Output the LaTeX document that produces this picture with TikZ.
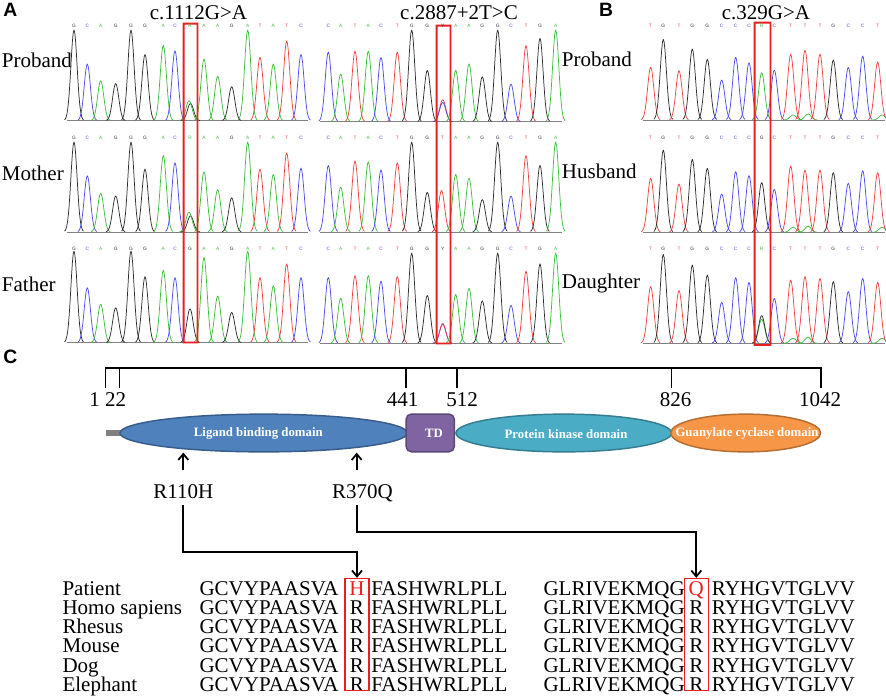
\documentclass[tikz,border=0pt]{standalone}
\usepackage{fontspec}
\setmainfont{Liberation Serif}
\newfontfamily\hvsans{Liberation Sans}
\usetikzlibrary{shapes.geometric,arrows.meta,calc}

\definecolor{cK}{RGB}{45,45,45}
\definecolor{cB}{RGB}{75,75,235}
\definecolor{cG}{RGB}{60,190,60}
\definecolor{cR}{RGB}{240,65,65}
\definecolor{lbdF}{RGB}{79,129,189}
\definecolor{lbdD}{RGB}{56,93,138}
\definecolor{tdF}{RGB}{128,100,162}
\definecolor{tdD}{RGB}{92,71,118}
\definecolor{pkF}{RGB}{75,172,198}
\definecolor{pkD}{RGB}{53,125,145}
\definecolor{gcF}{RGB}{247,150,70}
\definecolor{gcD}{RGB}{182,109,49}
\definecolor{boxR}{RGB}{235,30,30}

\newcommand\chpeak[4]{%
  \pgfmathsetmacro\pkL{#2-9.5}%
  \pgfmathsetmacro\pkR{#2+9.5}%
  \pgfmathsetmacro\pkH{#4}%
  \draw[trace,draw=#1] plot[domain=\pkL:\pkR,samples=25] (\x,{#3-\pkH*exp(-((\x-#2)^2)/19.2)});%
}
\newcommand\chrow[3]{\foreach \px/\pc/\pf in {#3}{\chpeak{\pc}{\px}{#1}{\pf*#2}}}
% red frame drawn as a filled ring: x1,y1,x2,y2 (outer)
\newcommand\redframe[4]{%
  \fill[boxR, even odd rule] (#1,#2) rectangle (#3,#4) ({#1+1.9},{#2+1.9}) rectangle ({#3-1.9},{#4-1.9});}

\begin{document}
\begin{tikzpicture}[x=0.75pt,y=-0.75pt,
  trace/.style={line width=0.55pt, line join=round},
  baseln/.style={line width=0.5pt, draw=cK!60},
  basecall/.style={font=\hvsans\fontsize{3.6}{4}\selectfont, inner sep=0pt},
  lbl/.style={font=\fontsize{15.75}{18}\selectfont, inner sep=0pt},
  panel/.style={font=\hvsans\bfseries\fontsize{14.5}{16}\selectfont, inner sep=0pt},
  dom/.style={ellipse, line width=1.1pt, minimum height=28.3pt, inner sep=0pt},
  domtext/.style={font=\bfseries\fontsize{9.6}{11}\selectfont, text=white, inner sep=0pt},
  arr/.style={line width=1.3pt, -{Straight Barb[length=4.5pt,width=7.5pt]}},
  ruler/.style={line width=1.2pt},
  alnbox/.style={draw=boxR, line width=0.8pt, minimum width=18pt, minimum height=83.8pt, inner sep=0pt}]

\useasboundingbox (0,0) rectangle (886,697);

% ---------- chromatograms: baselines ----------
\foreach \yb in {120.7,232,342.7} \draw[baseln] (67,\yb) -- (308,\yb);
\foreach \yb in {121.7,232,343.3} \draw[baseln] (320,\yb) -- (561.7,\yb);
\foreach \yb in {120,232.3,343.3} \draw[baseln] (642.7,\yb) -- (885,\yb);

% ---------- panel A, c.1112G>A ----------
\chrow{120.7}{90.7}{74/cK/1.0, 87.3/cB/.625, 100.7/cG/.44, 115.7/cK/.41, 131/cK/1.0, 145/cK/.73, 163.3/cG/.83, 175/cB/.77, 190.5/cK/.19, 189/cG/.22, 204/cG/.68, 217.7/cG/.49, 231.7/cK/.375, 247.7/cG/1.0, 260/cR/.70, 273.3/cG/.625, 286.7/cR/.88, 301/cB/.73}
\chrow{232}{90}{74/cK/1.0, 87.3/cB/.625, 100.7/cG/.43, 115.7/cK/.40, 131/cK/1.0, 145/cK/.70, 163.3/cG/.85, 175/cB/.77, 190.5/cK/.18, 189/cG/.22, 204/cG/.67, 217.7/cG/.47, 231.7/cK/.38, 247.7/cG/1.0, 260/cR/.70, 273.3/cG/.64, 286.7/cR/.88, 301/cB/.71}
\chrow{342.7}{91.7}{74/cK/1.0, 87.3/cB/.60, 100.7/cG/.42, 115.7/cK/.38, 131/cK/1.0, 145/cK/.72, 163.3/cG/.79, 175/cB/.71, 190/cK/.37, 204/cG/.93, 217.7/cG/.51, 231.7/cK/.33, 247.7/cG/1.0, 260/cR/.71, 273.3/cG/.62, 286.7/cR/.86, 301/cB/.71}

% ---------- panel A, c.2887+2T>C ----------
\chrow{121.7}{91.7}{328.3/cB/.76, 340.7/cG/.52, 355/cR/.77, 368.3/cG/.77, 381/cB/.70, 397.3/cR/.76, 411.7/cK/1.0, 427.3/cK/.56, 442.7/cR/.24, 442.7/cB/.21, 455.7/cG/.56, 469/cG/.63, 482.3/cK/.49, 497.7/cK/1.0, 511/cB/.41, 526/cR/.83, 540/cK/.91, 555.7/cG/1.0}
\chrow{232}{90}{328.3/cB/.74, 340.7/cG/.50, 355/cR/.79, 368.3/cG/.78, 381/cB/.69, 397.3/cR/.77, 411.7/cK/1.0, 427.3/cK/.44, 441.5/cR/.46, 455.7/cG/.64, 469/cG/.60, 482.3/cK/.36, 497.7/cK/1.0, 511/cB/.40, 526/cR/.85, 540/cK/.74, 555.7/cG/1.0}
\chrow{343.3}{90.3}{328.3/cB/.73, 340.7/cG/.50, 355/cR/.75, 368.3/cG/.75, 381/cB/.69, 397.3/cR/.74, 411.7/cK/1.0, 427.3/cK/.53, 442.7/cB/.21, 442.7/cR/.22, 455.7/cG/.54, 469/cG/.61, 482.3/cK/.47, 497.7/cK/1.0, 511/cB/.42, 526/cR/.80, 540/cK/.88, 555.7/cG/1.0}

% ---------- panel B, c.329G>A ----------
\chrow{120}{1}{650.7/cR/52.7, 663.3/cK/80.7, 679/cR/49.3, 692.3/cK/71, 707.3/cK/60.7, 721.7/cB/40, 735.7/cB/62.7, 749/cB/57.3, 761.7/cG/47.3, 774.3/cB/50, 793/cG/5, 790.7/cR/65.7, 808/cG/6, 805/cR/70, 820/cR/66, 833.3/cK/60, 848.3/cB/52.7, 862.7/cB/64, 882/cG/5, 877.7/cR/58}
\chrow{232.3}{1}{650.7/cR/54, 663.3/cK/82.3, 679/cR/48.3, 692.3/cK/73, 707.3/cK/64, 721.7/cB/38.3, 735.7/cB/60.7, 749/cB/56.7, 761.7/cK/49.7, 774.3/cB/43, 793/cG/5, 790.7/cR/66.3, 808/cG/6, 805/cR/62.3, 820/cR/62.3, 833.3/cK/59.7, 848.3/cB/49, 862.7/cB/61.7, 882/cG/5, 877.7/cR/59.7}
\chrow{343.3}{1}{650.7/cR/56.7, 663.3/cK/89, 679/cR/52.7, 692.3/cK/78.3, 707.3/cK/68.3, 721.7/cB/41, 735.7/cB/65.7, 749/cB/61, 761.7/cG/24, 761.7/cK/27.7, 774.3/cB/45, 793/cG/5, 790.7/cR/63.3, 808/cG/6, 805/cR/66.7, 820/cR/65, 833.3/cK/61.7, 848.3/cB/51.7, 862.7/cB/65, 882/cG/5, 877.7/cR/61}

% ---------- red boxes on chromatograms ----------
\redframe{182.6}{22.6}{198.4}{343.4}
\redframe{435.6}{24.6}{451.4}{344.4}
\redframe{753.6}{21.6}{771.4}{345.9}

% ---------- panel letters and titles ----------
\node[panel,anchor=base west] (pA) at (3,16.7) {A};
\node[panel,anchor=base west] (pB) at (598.8,16.7) {B};
\node[panel,anchor=base west] (pC) at (3,363.3) {C};
\node[lbl,anchor=base] (t1) at (198.5,19.5) {c.1112G>A};
\node[lbl,anchor=base] (t2) at (459,19.5) {c.2887+2T>C};
\node[lbl,anchor=base] (t3) at (766,19.5) {c.329G>A};

\node[lbl,anchor=base west] (sA1) at (1.7,67) {Proband};
\node[lbl,anchor=base west] (sA2) at (1.7,180) {Mother};
\node[lbl,anchor=base west] (sA3) at (1.7,291.7) {Father};
\node[lbl,anchor=base west] (sB1) at (561.7,66) {Proband};
\node[lbl,anchor=base west] (sB2) at (561.7,178.3) {Husband};
\node[lbl,anchor=base west] (sB3) at (561.7,288.8) {Daughter};

% ---------- base calls ----------
\foreach \px/\pl/\pc [count=\i] in {74/G/cK, 87.3/C/cB, 100.7/A/cG, 115.7/G/cK, 131/G/cK, 145/G/cK, 163.3/A/cG, 175/C/cB, 204/A/cG, 217.7/A/cG, 231.7/G/cK, 247.7/A/cG, 260/T/cR, 273.3/A/cG, 286.7/T/cR, 301/C/cB}
  \foreach \yy [count=\j] in {26,137.5,249} \node[basecall,text=\pc] (bca-\i-\j) at (\px,\yy) {\pl};
\foreach \px/\pl/\pc [count=\i] in {328.3/C/cB, 340.7/A/cG, 355/T/cR, 368.3/A/cG, 381/C/cB, 397.3/T/cR, 411.7/G/cK, 427.3/G/cK, 455.7/A/cG, 469/A/cG, 482.3/G/cK, 497.7/G/cK, 511/C/cB, 526/T/cR, 540/G/cK, 555.7/A/cG}
  \foreach \yy [count=\j] in {26,137.5,249} \node[basecall,text=\pc] (bcb-\i-\j) at (\px,\yy) {\pl};
\foreach \px/\pl/\pc [count=\i] in {650.7/T/cR, 663.3/G/cK, 679/T/cR, 692.3/G/cK, 707.3/G/cK, 721.7/C/cB, 735.7/C/cB, 749/C/cB, 774.3/C/cB, 790.7/T/cR, 805/T/cR, 820/T/cR, 833.3/G/cK, 848.3/C/cB, 862.7/C/cB, 877.7/T/cR}
  \foreach \yy [count=\j] in {26,137.5,249} \node[basecall,text=\pc] (bcc-\i-\j) at (\px,\yy) {\pl};
\node[basecall,text=cG] (ma1) at (190,26) {R};
\node[basecall,text=cG] (ma2) at (190,137.5) {R};
\node[basecall,text=cK] (ma3) at (190,249) {G};
\node[basecall,text=cK] (mb1) at (442.7,26) {Y};
\node[basecall,text=cR] (mb2) at (442.7,137.5) {T};
\node[basecall,text=cK] (mb3) at (442.7,249) {Y};
\node[basecall,text=cG] (mc1) at (761.7,26) {R};
\node[basecall,text=cK] (mc2) at (761.7,137.5) {G};
\node[basecall,text=cG] (mc3) at (761.7,249) {R};

% ---------- panel C: ruler ----------
\draw[ruler] (105.3,388) -- (105.3,367.7) -- (820.7,367.7) -- (820.7,388);
\foreach \tx in {119.3,406,456.7,671.3} \draw[ruler] (\tx,367.7) -- (\tx,388);
\node[lbl,anchor=base] (n1) at (94.7,406) {1};
\node[lbl,anchor=base] (n22) at (115.5,406) {22};
\node[lbl,anchor=base] (n441) at (402.5,406) {441};
\node[lbl,anchor=base] (n512) at (462,406) {512};
\node[lbl,anchor=base] (n826) at (675.5,406) {826};
\node[lbl,anchor=base] (n1042) at (820,406) {1042};

% ---------- domains ----------
\node[fill=gray, minimum width=12pt, minimum height=4.5pt, inner sep=0pt] (stub) at (114,433) {};
\node[dom, draw=lbdD, fill=lbdF, minimum width=215.6pt] (lbd) at (263.7,433) {};
\node[draw=tdD, fill=tdF, line width=1.1pt, rounded corners=4pt, minimum width=36.2pt, minimum height=28.3pt, inner sep=0pt] (td) at (430.2,432.9) {};
\node[dom, draw=pkD, fill=pkF, minimum width=161.8pt] (pkd) at (563.8,433) {};
\node[dom, draw=gcD, fill=gcF, minimum width=112.5pt] (gcd) at (745.7,433) {};
\node[domtext] (lbdt) at (258.3,433.8) {Ligand binding domain};
\node[domtext] (tdt) at (434,433.8) {TD};
\node[domtext] (pkdt) at (566,433.8) {Protein kinase domain};
\node[domtext] (gcdt) at (747,433.8) {Guanylate cyclase domain};

% ---------- mutation labels ----------
\node[lbl,anchor=base] (r110) at (183.3,498.3) {R110H};
\node[lbl,anchor=base] (r370) at (362.5,498.3) {R370Q};

% ---------- alignment ----------
\foreach \nm [count=\i from 0] in {Patient,Homo sapiens,Rhesus,Mouse,Dog,Elephant} {
  \pgfmathsetmacro\yb{595+19.25*\i}
  \node[lbl,anchor=base west] (nm\i) at (62.3,\yb) {\nm};
  \node[lbl,anchor=base west] (sa\i) at (199.3,\yb) {GCVYPAASVA};
  \node[lbl,anchor=base west] (sb\i) at (371,\yb) {FASHWRLPLL};
  \node[lbl,anchor=base east] (sc\i) at (685,\yb) {GLRIVEKMQG};
  \node[lbl,anchor=base west] (sd\i) at (711.7,\yb) {RYHGVTGLVV};
}
\node[lbl,anchor=base,text=boxR] (ra0) at (357,595) {H};
\node[lbl,anchor=base,text=boxR] (rb0) at (696.3,595) {Q};
\foreach \i in {1,...,5} {
  \pgfmathsetmacro\yb{595+19.25*\i}
  \node[lbl,anchor=base] (ra\i) at (357,\yb) {R};
  \node[lbl,anchor=base] (rb\i) at (696.3,\yb) {R};
}
\node[alnbox] (hbox) at (357,634.2) {};
\node[alnbox] (qbox) at (696.3,634.2) {};

% ---------- connectors ----------
\coordinate (a1) at (183.3,470);
\coordinate (a2) at (356.7,470);
\coordinate (b1) at (183.3,505);
\coordinate (b2) at (356.7,505);
\coordinate (k1) at (0,551.7);
\coordinate (k2) at (0,531.7);
\draw[arr] (a1) -- (a1 |- lbd.south);
\draw[arr] (a2) -- (a2 |- lbd.south);
\draw[arr] (b1) -- (b1 |- k1) -| (hbox.north);
\draw[arr] (b2) -- (b2 |- k2) -| (qbox.north);

\end{tikzpicture}
\end{document}
